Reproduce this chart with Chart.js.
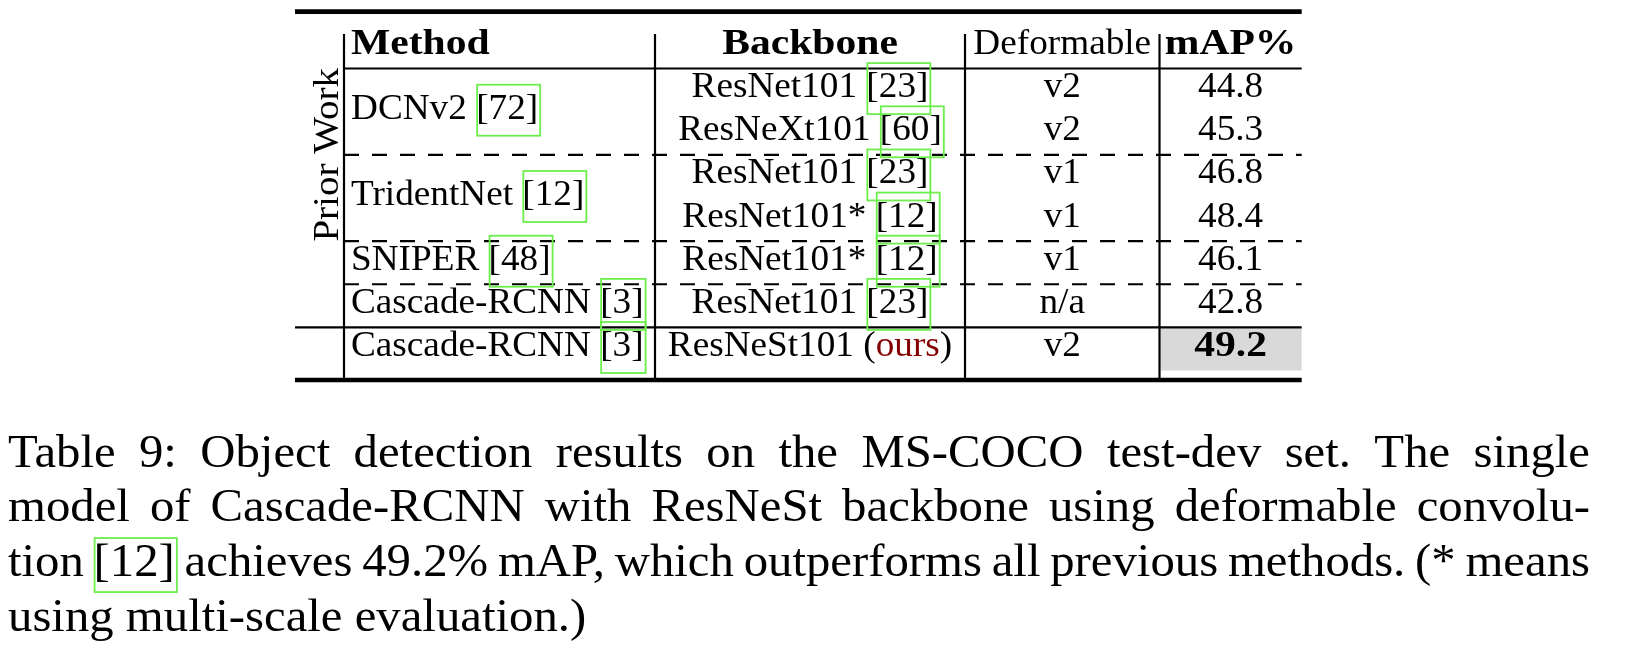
<!DOCTYPE html>
<html>
<head>
<meta charset="utf-8">
<script src="https://cdn.jsdelivr.net/npm/chart.js@4.4.1/dist/chart.umd.min.js"></script>
<style>
  html, body { margin: 0; padding: 0; background: #ffffff; }
  #wrap { width: 1650px; height: 670px; }
  canvas { display: block; }
</style>
</head>
<body>
<div id="wrap"><canvas id="c" width="1650" height="670"></canvas></div>
<script>
// ---------------- DATA ----------------
const headers = ['Method', 'Backbone', 'Deformable', 'mAP%'];
const headerBold = [true, true, false, true];
const groupLabel = 'Prior Work';
const methods = ['DCNv2', 'TridentNet', 'SNIPER', 'Cascade-RCNN', 'Cascade-RCNN'];
const methodRefs = ['72', '12', '48', '3', '3'];
const methodSpans = [[1, 2], [3, 4], [5, 5], [6, 6], [7, 7]];
const backbones = ['ResNet101', 'ResNeXt101', 'ResNet101', 'ResNet101*', 'ResNet101*', 'ResNet101', 'ResNeSt101'];
const backboneRefs = ['23', '60', '23', '12', '12', '23', ''];
const oursFlags = [false, false, false, false, false, false, true];
const deformable = ['v2', 'v2', 'v1', 'v1', 'v1', 'n/a', 'v2'];
const mAP = [44.8, 45.3, 46.8, 48.4, 46.1, 42.8, 49.2];
const priorWorkRows = 6;
const captionLines = [
  'Table 9: Object detection results on the MS-COCO test-dev set. The single',
  'model of Cascade-RCNN with ResNeSt backbone using deformable convolu-',
  'tion [12] achieves 49.2% mAP, which outperforms all previous methods. (* means',
  'using multi-scale evaluation.)'
];

// ---------------- LAYOUT (scale units) ----------------
const X_EDGES = [295, 344, 655, 965, 1159.5, 1301.7];
const LEFT_PAD = 7;
const BASE_SHIFT = 0.164;          // baseline below row centre, in rows
const TOP_RULE = -0.817, BOTTOM_RULE = 7.72, VLINE_TOP = -0.30;
const CAPTION_X = [8, 1590];
const CAPTION_ROW0 = 9.729, CAPTION_STEP = 1.267;
const PRIOR_LABEL_X = 337.7;

// ---------------- STYLE ----------------
const FONT_REG = '36.5px "Liberation Serif"';
const FONT_BOLD = 'bold 36.5px "Liberation Serif"';
const SX_REG = 1.02, SX_BOLD = 1.14;
const FONT_CAP = '46px "Liberation Serif"';
const SX_CAP = 1.06;
const LINK_GREEN = '#6cee4c';
const OURS_RED = '#850000';
const HILITE = '#d9d9d9';

const colMid = c => (X_EDGES[c] + X_EDGES[c + 1]) / 2;
const cite = (name, ref) => ref ? [{ t: name + ' ' }, { t: '[' + ref + ']', box: true }] : [{ t: name }];

function drawRun(ctx, segs, x, y, align, font, sx, boxTop, boxBot) {
  ctx.font = font;
  const widths = segs.map(s => ctx.measureText(s.t).width * sx);
  const total = widths.reduce((a, b) => a + b, 0);
  let cx = align === 'center' ? x - total / 2 : (align === 'right' ? x - total : x);
  segs.forEach((s, i) => {
    ctx.save();
    ctx.translate(cx, y);
    ctx.scale(sx, 1);
    ctx.font = font;
    ctx.fillStyle = s.color || '#000';
    ctx.textAlign = 'left';
    ctx.textBaseline = 'alphabetic';
    ctx.fillText(s.t, 0, 0);
    ctx.restore();
    if (s.box) {
      ctx.save();
      ctx.strokeStyle = LINK_GREEN;
      ctx.lineWidth = 1.8;
      ctx.strokeRect(cx + 1, y - boxTop, widths[i] + 1, boxTop + boxBot);
      ctx.restore();
    }
    cx += widths[i];
  });
}

// ---------------- DATASETS ----------------
const rowIdx = i => i + 1;
const datasets = [
  {
    label: 'header',
    data: headers.map((h, i) => ({ x: i === 0 ? X_EDGES[1] + LEFT_PAD : colMid(i + 1), y: 0 })),
    cells: headers.map(h => [{ t: h }]),
    align: headers.map((h, i) => i === 0 ? 'left' : 'center'),
    bold: headerBold
  },
  {
    label: 'method',
    data: methodSpans.map(s => ({ x: X_EDGES[1] + LEFT_PAD, y: (s[0] + s[1]) / 2 })),
    cells: methods.map((m, i) => cite(m, methodRefs[i])),
    align: methods.map(() => 'left'),
    bold: methods.map(() => false)
  },
  {
    label: 'backbone',
    data: backbones.map((b, i) => ({ x: colMid(2), y: rowIdx(i) })),
    cells: backbones.map((b, i) => oursFlags[i]
      ? [{ t: b + ' (' }, { t: 'ours', color: OURS_RED }, { t: ')' }]
      : cite(b, backboneRefs[i])),
    align: backbones.map(() => 'center'),
    bold: backbones.map(() => false)
  },
  {
    label: 'deformable',
    data: deformable.map((d, i) => ({ x: colMid(3), y: rowIdx(i) })),
    cells: deformable.map(d => [{ t: d }]),
    align: deformable.map(() => 'center'),
    bold: deformable.map(() => false)
  },
  {
    label: 'mAP',
    data: mAP.map((v, i) => ({ x: colMid(4), y: rowIdx(i) })),
    cells: mAP.map(v => [{ t: v.toFixed(1) }]),
    align: mAP.map(() => 'center'),
    bold: mAP.map((v, i) => oursFlags[i])
  }
].map(d => Object.assign(d, { pointRadius: 0, pointHoverRadius: 0, showLine: false }));

// ---------------- PLUGIN ----------------
const tablePlugin = {
  id: 'tableDraw',
  beforeDatasetsDraw(chart) {
    const { ctx, scales: { x, y } } = chart;
    const px = v => x.getPixelForValue(v);
    const py = v => y.getPixelForValue(v);
    ctx.save();
    // highlighted result cell
    const best = oursFlags.indexOf(true) + 1;
    ctx.fillStyle = HILITE;
    ctx.fillRect(px(X_EDGES[4]) + 1, py(best - 0.5) + 1,
      px(X_EDGES[5]) - px(X_EDGES[4]) - 1, py(best + 0.5) - py(best - 0.5) - 1);

    ctx.strokeStyle = '#000';
    const hline = (v, x0, x1, w, dash) => {
      ctx.beginPath();
      ctx.lineWidth = w;
      ctx.setLineDash(dash || []);
      ctx.moveTo(px(x0), py(v));
      ctx.lineTo(px(x1), py(v));
      ctx.stroke();
    };
    // booktabs rules
    hline(TOP_RULE, X_EDGES[0], X_EDGES[5], 4.6);
    hline(BOTTOM_RULE, X_EDGES[0], X_EDGES[5], 4.6);
    hline(0.5, X_EDGES[1], X_EDGES[5], 2.2);
    // group separators
    methodSpans.forEach(s => {
      const end = s[1];
      if (end < priorWorkRows) hline(end + 0.5, X_EDGES[1], X_EDGES[5], 2.2, [15, 13]);
    });
    hline(priorWorkRows + 0.5, X_EDGES[0], X_EDGES[5], 2.2);
    ctx.setLineDash([]);
    // vertical lines
    for (let c = 1; c <= 4; c++) {
      ctx.beginPath();
      ctx.lineWidth = 2.2;
      ctx.moveTo(px(X_EDGES[c]), py(VLINE_TOP));
      ctx.lineTo(px(X_EDGES[c]), py(BOTTOM_RULE));
      ctx.stroke();
    }
    ctx.restore();
  },
  afterDatasetsDraw(chart) {
    const { ctx, scales: { x, y } } = chart;
    const px = v => x.getPixelForValue(v);
    const py = v => y.getPixelForValue(v);
    const rowPx = Math.abs(py(1) - py(0));
    ctx.save();
    chart.data.datasets.forEach((ds, di) => {
      const meta = chart.getDatasetMeta(di);
      meta.data.forEach((el, i) => {
        const bold = ds.bold[i];
        drawRun(ctx, ds.cells[i], el.x, el.y + rowPx * BASE_SHIFT, ds.align[i],
          bold ? FONT_BOLD : FONT_REG, bold ? SX_BOLD : SX_REG, 34, 17);
      });
    });
    // rotated group label
    ctx.save();
    ctx.translate(px(PRIOR_LABEL_X), py((0.5 + 4.5) / 2));
    ctx.rotate(-Math.PI / 2);
    ctx.scale(1.07, 1);
    ctx.font = FONT_REG;
    ctx.fillStyle = '#000';
    ctx.textAlign = 'center';
    ctx.textBaseline = 'alphabetic';
    ctx.fillText(groupLabel, 0, 0);
    ctx.restore();

    // caption (justified except last line)
    const x0 = px(CAPTION_X[0]), x1 = px(CAPTION_X[1]);
    captionLines.forEach((line, li) => {
      const base = py(CAPTION_ROW0 + li * CAPTION_STEP);
      const words = line.split(' ');
      ctx.font = FONT_CAP;
      let sx = SX_CAP;
      let ws = words.map(w => ctx.measureText(w).width * sx);
      let sum = ws.reduce((a, b) => a + b, 0);
      const spaceW = ctx.measureText(' ').width * sx;
      const last = li === captionLines.length - 1;
      let gap = spaceW;
      if (!last) {
        gap = (x1 - x0 - sum) / (words.length - 1);
        const minGap = spaceW * 0.75;
        if (gap < minGap) {
          const k = (x1 - x0 - minGap * (words.length - 1)) / sum;
          sx *= k; ws = ws.map(w => w * k); gap = minGap;
        }
      }
      let cx = x0;
      words.forEach((w, wi) => {
        const isRef = /^\[\d+\]$/.test(w);
        drawRun(ctx, [{ t: w, box: isRef }], cx, base, 'left', FONT_CAP, sx, 38, 16);
        cx += ws[wi] + gap;
      });
    });
    ctx.restore();
  }
};

new Chart(document.getElementById('c'), {
  type: 'scatter',
  data: { datasets },
  options: {
    responsive: false,
    animation: false,
    devicePixelRatio: 1,
    events: [],
    layout: { padding: 0 },
    plugins: { legend: { display: false }, tooltip: { enabled: false }, title: { display: false } },
    scales: {
      x: { type: 'linear', min: 0, max: 1650, display: false },
      y: { type: 'linear', min: -1.087, max: 14.44, reverse: true, display: false }
    }
  },
  plugins: [tablePlugin]
});
</script>
</body>
</html>
